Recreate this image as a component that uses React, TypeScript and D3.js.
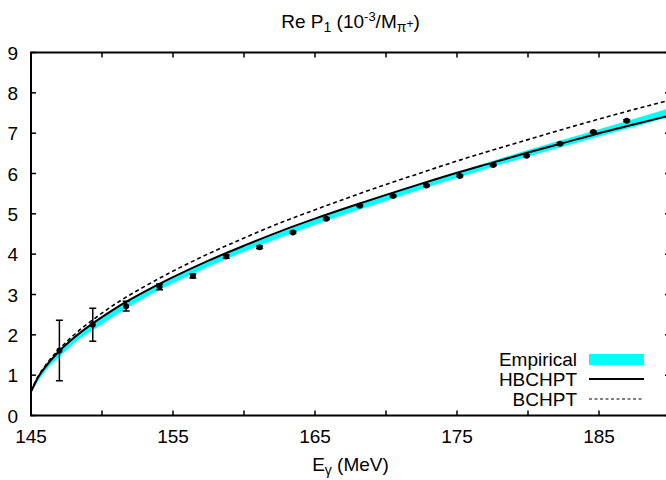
import React from "react";
import * as d3 from "d3";

// ---- data ----
const xTicks = [145, 150, 155, 160, 165, 170, 175, 180, 185, 190];
const xTickLabels = [145, 155, 165, 175, 185];
const yTicks = [0, 1, 2, 3, 4, 5, 6, 7, 8, 9];

const pointE = [147.0, 149.35, 151.7, 154.05, 156.4, 158.75, 161.1, 163.45, 165.8, 168.15, 170.5, 172.85, 175.2, 177.55, 179.9, 182.25, 184.6, 186.95];
const pointP1 = [1.61, 2.25, 2.71, 3.19, 3.46, 3.94, 4.17, 4.54, 4.88, 5.2, 5.44, 5.7, 5.94, 6.21, 6.44, 6.74, 7.03, 7.31];
const pointErr = [0.75, 0.41, 0.12, 0.07, 0.05, 0.04, 0.03, 0.02, 0.02, 0.02, 0.02, 0.02, 0.02, 0.02, 0.02, 0.02, 0.02, 0.02];

const curveE = [145, 145.5, 146, 147, 148, 149.5, 151, 153, 155, 157.5, 160, 162.5, 165, 167.5, 170, 172.5, 175, 177.5, 180, 182.5, 185, 187.5, 190];
const hbchpt = [0.59, 0.95, 1.2, 1.6, 1.92, 2.32, 2.67, 3.07, 3.43, 3.84, 4.21, 4.56, 4.88, 5.18, 5.47, 5.75, 6.02, 6.27, 6.52, 6.76, 7.0, 7.22, 7.44];
const bchpt = [0.59, 0.97, 1.23, 1.65, 1.99, 2.41, 2.78, 3.2, 3.58, 4.01, 4.4, 4.77, 5.1, 5.42, 5.73, 6.02, 6.31, 6.58, 6.84, 7.1, 7.35, 7.59, 7.82];
const empLow = [0.55, 0.85, 1.1, 1.45, 1.78, 2.15, 2.5, 2.92, 3.28, 3.69, 4.06, 4.4, 4.73, 5.03, 5.32, 5.61, 5.89, 6.16, 6.42, 6.67, 6.92, 7.16, 7.4];
const empHigh = [0.62, 0.93, 1.19, 1.6, 1.92, 2.3, 2.65, 3.06, 3.41, 3.82, 4.19, 4.54, 4.86, 5.17, 5.46, 5.75, 6.03, 6.31, 6.58, 6.84, 7.1, 7.36, 7.62];

const legendLabels = ["Empirical", "HBCHPT", "BCHPT"];

const W = 666;
const H = 480;
const L = 31, R = 670, T = 52.5, B = 415.5;
const FONT = "'Liberation Sans', Arial, Helvetica, sans-serif";
const FS = 19;

export default function App() {
  const x = d3.scaleLinear().domain([145, 190]).range([L, R]);
  const y = d3.scaleLinear().domain([0, 9]).range([B, T]);

  const line = (vals: number[]) =>
    d3
      .line<number>()
      .x((_, i) => x(curveE[i]))
      .y((v) => y(v))
      .curve(d3.curveMonotoneX)(vals) as string;

  const band = d3
    .area<number>()
    .x((_, i) => x(curveE[i]))
    .y0((_, i) => y(empLow[i]))
    .y1((_, i) => y(empHigh[i]))
    .curve(d3.curveMonotoneX)(curveE.map((_, i) => i)) as string;

  const tick = 5;

  return (
    <svg
      width={W}
      height={H}
      style={{ position: "absolute", left: 0, top: 0, background: "#fff" }}
      fontFamily={FONT}
    >
      <defs>
        <clipPath id="plotclip">
          <rect x={L} y={T} width={R - L} height={B - T} />
        </clipPath>
      </defs>
      <rect width={W} height={H} fill="#fff" />

      {/* title */}
      <text x={(L + R) / 2} y={28} fontSize={FS} textAnchor="middle">
        <tspan>Re P</tspan>
        <tspan fontSize={14} dy={4}>1</tspan>
        <tspan dy={-4}> (10</tspan>
        <tspan fontSize={13} dy={-7}>-3</tspan>
        <tspan dy={7}>/M</tspan>
        <tspan fontSize={14} dy={4}>π</tspan>
        <tspan fontSize={12} dy={-4}>+</tspan>
        <tspan dy={0}>)</tspan>
      </text>

      {/* plot content */}
      <g clipPath="url(#plotclip)">
        <path d={band} fill="#00ffff" stroke="none" />
        <path d={line(bchpt)} fill="none" stroke="#000" strokeWidth={1.6} strokeDasharray="4,3" />
        <path d={line(hbchpt)} fill="none" stroke="#000" strokeWidth={2} />
        {pointE.map((e, i) => {
          const cx = x(e);
          const yt = y(pointP1[i] + pointErr[i]);
          const yb = y(pointP1[i] - pointErr[i]);
          return (
            <g key={i}>
              <line x1={cx} x2={cx} y1={yt} y2={yb} stroke="#000" strokeWidth={1.5} />
              <line x1={cx - 3.5} x2={cx + 3.5} y1={yt} y2={yt} stroke="#000" strokeWidth={1.5} />
              <line x1={cx - 3.5} x2={cx + 3.5} y1={yb} y2={yb} stroke="#000" strokeWidth={1.5} />
              <circle cx={cx} cy={y(pointP1[i])} r={3} fill="#000" />
            </g>
          );
        })}
      </g>

      {/* frame */}
      <rect x={L} y={T} width={R - L} height={B - T} fill="none" stroke="#000" strokeWidth={2} />

      {/* x ticks */}
      {xTicks.map((t) => (
        <g key={"x" + t}>
          <line x1={x(t)} x2={x(t)} y1={B} y2={B - tick} stroke="#000" strokeWidth={1.5} />
          <line x1={x(t)} x2={x(t)} y1={T} y2={T + tick} stroke="#000" strokeWidth={1.5} />
        </g>
      ))}
      {xTickLabels.map((t) => (
        <text key={"xl" + t} x={x(t)} y={443} fontSize={FS} textAnchor="middle">
          {t}
        </text>
      ))}

      {/* y ticks */}
      {yTicks.map((t) => (
        <g key={"y" + t}>
          <line x1={L} x2={L + tick} y1={y(t)} y2={y(t)} stroke="#000" strokeWidth={1.5} />
          <line x1={R} x2={R - tick} y1={y(t)} y2={y(t)} stroke="#000" strokeWidth={1.5} />
          <text x={18} y={y(t) + 7} fontSize={FS} textAnchor="end">
            {t}
          </text>
        </g>
      ))}

      {/* x label */}
      <text x={(L + R) / 2} y={471} fontSize={FS} textAnchor="middle">
        <tspan>E</tspan>
        <tspan fontSize={14} dy={4}>γ</tspan>
        <tspan dy={-4}> (MeV)</tspan>
      </text>

      {/* legend */}
      <text x={577} y={366} fontSize={FS} textAnchor="end">{legendLabels[0]}</text>
      <rect x={589} y={354} width={55} height={11} fill="#00ffff" />
      <text x={577} y={386} fontSize={FS} textAnchor="end">{legendLabels[1]}</text>
      <line x1={589} x2={644} y1={379} y2={379} stroke="#000" strokeWidth={2} />
      <text x={577} y={406} fontSize={FS} textAnchor="end">{legendLabels[2]}</text>
      <line x1={589} x2={644} y1={399} y2={399} stroke="#000" strokeWidth={1.2} strokeDasharray="3,2.5" />
    </svg>
  );
}
